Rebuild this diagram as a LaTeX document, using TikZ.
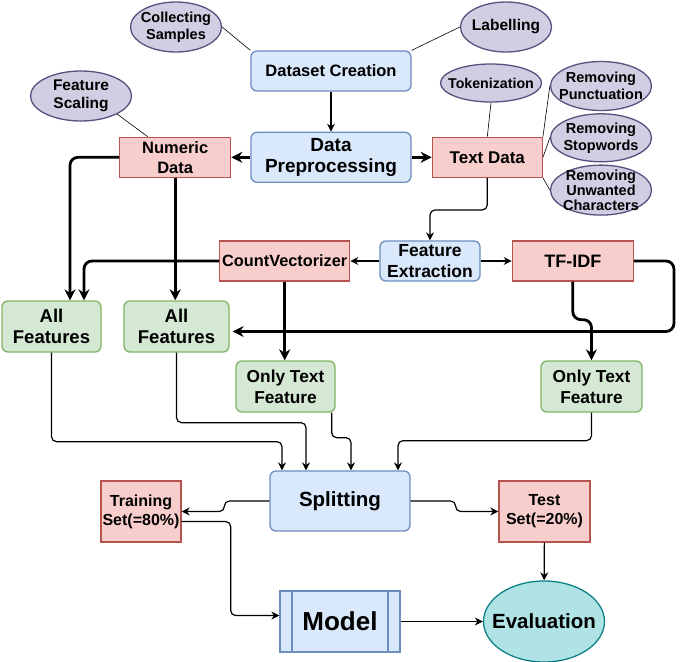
\documentclass[tikz,border=0pt]{standalone}
\usepackage{fontspec}
\setmainfont{Liberation Sans}
\usetikzlibrary{shapes.geometric, arrows.meta, positioning, calc}

\definecolor{bluefill}{HTML}{DAE8FC}
\definecolor{blueline}{HTML}{6C8EBF}
\definecolor{redfill}{HTML}{F8CECC}
\definecolor{redline}{HTML}{B85450}
\definecolor{greenfill}{HTML}{D5E8D4}
\definecolor{greenline}{HTML}{82B366}
\definecolor{purplefill}{HTML}{D0CEE2}
\definecolor{purpleline}{HTML}{56517E}
\definecolor{tealfill}{HTML}{B0E3E6}
\definecolor{tealline}{HTML}{0E8088}

\newcommand{\fsz}[2]{\bfseries\fontsize{#1}{#2}\selectfont}

\begin{document}
\begin{tikzpicture}[
        x=1pt, y=-1pt,
        % Global Styles
        block/.style={rectangle, draw=blueline, fill=bluefill, rounded corners=6pt, line width=1.3pt, align=center, inner sep=0pt},
        databox/.style={rectangle, draw=redline, fill=redfill, line width=1.3pt, align=center, inner sep=0pt},
        featbox/.style={rectangle, draw=greenline, fill=greenfill, rounded corners=6pt, line width=1.3pt, align=center, inner sep=0pt, minimum width=99pt, minimum height=51pt, font=\fsz{18.5}{21}},
        task/.style={ellipse, draw=purpleline, fill=purplefill, line width=1.3pt, align=center, inner xsep=-15pt, inner ysep=-10pt, font=\fsz{14.5}{17}},
        result/.style={ellipse, draw=tealline, fill=tealfill, line width=1.3pt, inner xsep=-15pt, inner ysep=-10pt},
        procbox/.style={rectangle, draw=blueline, fill=bluefill, line width=1.3pt, inner sep=0pt, minimum width=120pt, minimum height=61pt,
            path picture={\draw [blueline, line width=1.3pt]
                ([xshift=12pt]path picture bounding box.north west) -- ([xshift=12pt]path picture bounding box.south west)
                ([xshift=-12pt]path picture bounding box.north east) -- ([xshift=-12pt]path picture bounding box.south east);}},
        line/.style={draw, -{Stealth[length=11pt, width=11pt]}, line width=2.8pt, rounded corners=8pt}, % Thick Arrow
        thinline/.style={draw, -{Stealth[length=8pt, width=8pt]}, line width=1.2pt, rounded corners=5pt}, % Standard Arrow
        connector/.style={draw, line width=0.6pt} % Line WITHOUT arrow head
    ]
    \useasboundingbox (0,0) rectangle (681,662);

    % --- Nodes ---

    % 1. Dataset and Preprocessing
    \node [block, minimum width=160pt, minimum height=40pt, font=\fsz{16.5}{19}] (dataset) at (331,71) {Dataset Creation};
    \node [block, below=40pt of dataset, minimum width=160pt, minimum height=50pt, font=\fsz{19}{21.5}] (prep) {Data\\Preprocessing};
    \node [databox, left=19pt of prep, minimum width=111pt, minimum height=40pt, font=\fsz{16.5}{20}] (numeric) {Numeric\\Data};
    \node [databox, right=20pt of prep, minimum width=110pt, minimum height=40pt, font=\fsz{17}{20}] (textdata) {Text Data};

    % 2. Tasks (Ellipses)
    \node [task, minimum width=91pt, minimum height=50pt] (collect) at (176,27) {Collecting\\Samples};
    \node [task, minimum width=91pt, minimum height=50pt, font=\fsz{15.5}{17}] (labelling) at (506,27) {Labelling};
    \node [task, minimum width=101pt, minimum height=50pt, font=\fsz{15.5}{18}] (scaling) at (81,96) {Feature\\Scaling};
    \node [task, minimum width=101pt, minimum height=38pt, font=\fsz{14.2}{17}] (token) at (491,83) {Tokenization};
    \node [task, minimum width=101pt, minimum height=49pt] (punct) at (601,86) {Removing\\Punctuation};
    \node [task, below=2pt of punct, minimum width=101pt, minimum height=48pt] (stopw) {Removing\\Stopwords};
    \node [task, below=2pt of stopw, minimum width=101pt, minimum height=50pt, font=\fsz{14.5}{15}] (unwanted) {Removing\\Unwanted\\Characters};

    % 3. Feature Extraction
    \node [block, minimum width=100pt, minimum height=40pt, font=\fsz{17.5}{21}] (featx) at (430,261) {Feature\\Extraction};
    \node [databox, left=29pt of featx, minimum width=130pt, minimum height=40pt, font=\fsz{16.3}{19}] (countv) {CountVectorizer};
    \node [databox, right=31pt of featx, minimum width=121pt, minimum height=40pt, font=\fsz{18}{20}] (tfidf) {TF-IDF};

    % 4. Feature Sets
    \node [featbox] (allA) at (51.5,326.5) {All\\Features};
    \node [featbox, minimum width=105pt] (allB) at (176.5,326.5) {All\\Features};
    \node [featbox, font=\fsz{17.3}{21}] (onlyA) at (285.5,386.5) {Only Text\\Feature};
    \node [featbox, minimum width=101pt, font=\fsz{17.3}{21}] (onlyB) at (591.5,386.5) {Only Text\\Feature};

    % 5. Splitting, Model and Evaluation
    \node [block, minimum width=140pt, minimum height=60pt, font=\fsz{20.5}{23}] (split) at (340,501) {Splitting};
    \node [databox, minimum width=80pt, minimum height=61pt, font=\fsz{16}{19}] (train) at (141,511.5) {Training\\Set(=80\%)};
    \node [databox, minimum width=91pt, minimum height=61pt, font=\fsz{16}{19}] (test) at (544.5,511.5) {Test\\Set(=20\%)};
    \node [procbox, font=\fsz{26}{28}] (model) at (340,621.5) {Model};
    \node [result, minimum width=121pt, minimum height=81pt, font=\fsz{20.5}{23}] (eval) at (544,621.5) {Evaluation};

    % --- Paths ---

    % Tasks to Boxes
    \draw [connector] (collect.east) -- (dataset.north west);
    \draw [connector] (labelling.west) -- (dataset.north east);
    \draw [connector] (scaling.south east) -- ([xshift=-27.5pt]numeric.north);
    \draw [connector] (token.south) -- (textdata.north);
    \draw [connector] (textdata.north east) -- (punct.west);
    \draw [connector] (textdata.east) -- (stopw.west);
    \draw [connector] (textdata.south east) -- (unwanted.west);

    % Preprocessing
    \draw [thinline] (dataset) -- (prep);
    \draw [line] (prep) -- (numeric);
    \draw [line] (prep) -- (textdata);
    \draw [thinline] (textdata.south) -- ++(0,32) -| (featx.north);
    \draw [thinline] (featx) -- (countv);
    \draw [thinline] (featx) -- (tfidf);

    % Extraction to Feature Sets
    \draw [line] (numeric.west) -| ([xshift=18.5pt]allA.north);
    \draw [line] (countv.west) -| ([xshift=32.5pt]allA.north);
    \draw [line] (numeric.south) -- (numeric.south |- allB.north);
    \draw [line] (countv.south) -- (countv.south |- onlyA.north);
    \draw [line, shorten >=3pt] (tfidf.east) -- ++(40,0) |- ([yshift=-5pt]allB.east);
    \draw [line] (tfidf.south) -- ++(0,38) -| (onlyB.north);

    % Feature Sets to Splitting
    \draw [thinline] (allA.south) -- ++(0,89) -| ([xshift=-58pt]split.north);
    \draw [thinline] (allB.south) -- ++(0,70) -| ([xshift=-34pt]split.north);
    \draw [thinline] ([xshift=-4pt]onlyA.south east) -- ++(0,25) -| ([xshift=11pt]split.north);
    \draw [thinline] (onlyB.south) -- ++(0,28) -| ([xshift=58pt]split.north);

    % Splitting to Model and Evaluation
    \draw [thinline] (split.west) -- ++(-45,0) |- (train.east);
    \draw [thinline] (split.east) -- ++(45,0) |- (test.west);
    \draw [thinline] ([yshift=-10pt]train.east) -- ++(49,0) |- ([yshift=6pt]model.west);
    \draw [thinline] (test) -- (eval);
    \draw [thinline] (model) -- (eval);

\end{tikzpicture}
\end{document}
